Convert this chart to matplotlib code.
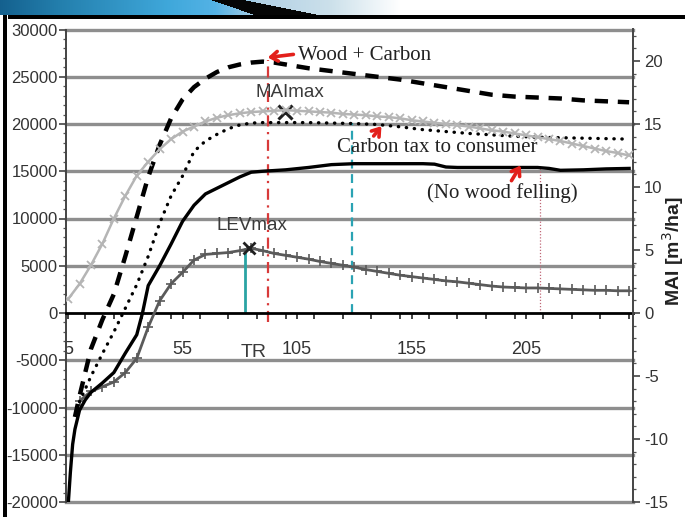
import numpy as np
import matplotlib
matplotlib.use("Agg")
import matplotlib.pyplot as plt
from matplotlib.ticker import MultipleLocator, FixedLocator
from matplotlib.patches import Rectangle

plt.rcParams['font.family'] = ['Liberation Sans', 'DejaVu Sans']

# ---------------- data ----------------
# MAI (right axis, m3/ha), light grey with x markers
mai_age = list(range(5, 251, 5))
mai_val = [1.1, 2.3, 3.8, 5.5, 7.5, 9.3, 10.9, 12.0, 13.0, 13.8,
           14.4, 14.8, 15.2, 15.5, 15.7, 15.85, 15.95, 16.0, 16.05, 16.1,
           16.05, 16.0, 15.95, 15.9, 15.8, 15.75, 15.7, 15.6, 15.55, 15.45,
           15.3, 15.2, 15.1, 15.0, 14.9, 14.8, 14.65, 14.5, 14.4, 14.25,
           14.1, 13.95, 13.8, 13.65, 13.45, 13.25, 13.05, 12.85, 12.7, 12.5]

# LEV (left axis), dark grey with + markers
lev_age = list(range(10, 251, 5))
lev_val = [-9300, -8300, -7800, -7300, -6300, -4800, -1500, 1300, 3100, 4300,
           5600, 6200, 6300, 6400, 6600, 6850, 6600, 6300, 6100, 5900,
           5700, 5450, 5250, 5050, 4850, 4600, 4400, 4200, 4000, 3850,
           3700, 3550, 3400, 3300, 3150, 3000, 2850, 2750, 2700, 2650,
           2650, 2600, 2550, 2500, 2450, 2400, 2400, 2350, 2350]

# Wood + Carbon (dashed)
wc_age = [8, 10, 15, 20, 25, 30, 35, 40, 45, 50, 55, 60, 65, 70, 75, 80, 85, 90,
          95, 100, 110, 120, 130, 140, 150, 160, 170, 180, 190, 200, 210, 220,
          230, 240, 250]
wc_val = [-11000, -8800, -3800, -700, 2000, 6000, 10200, 14400, 17800, 20600,
          22600, 23900, 24800, 25500, 26000, 26300, 26500, 26600, 26500, 26300,
          25900, 25600, 25300, 25000, 24700, 24300, 23900, 23500, 23100, 22900,
          22800, 22700, 22500, 22400, 22300]

# Carbon tax to consumer (dotted)
ct_age = [9, 10, 15, 20, 25, 30, 35, 40, 45, 50, 55, 60, 65, 70, 75, 80, 85, 90,
          100, 110, 120, 130, 140, 150, 160, 170, 180, 190, 200, 210, 220, 230,
          240, 250]
ct_val = [-10200, -9400, -6700, -4300, -2000, 500, 3000, 6000, 9500, 12400,
          14500, 17100, 18200, 18900, 19500, 19900, 20100, 20150, 20150, 20150,
          20100, 20050, 19950, 19700, 19400, 19200, 19000, 18850, 18700, 18600,
          18550, 18500, 18450, 18400]

# No wood felling (solid)
nf_age = [5, 6, 7, 8, 10, 12.5, 15, 20, 25, 30, 35, 37.5, 40, 45, 50, 55, 60, 65,
          70, 75, 80, 85, 90, 100, 110, 120, 130, 140, 150, 160, 165, 170, 175,
          180, 190, 200, 210, 215, 220, 230, 240, 250]
nf_val = [-20500, -16900, -13900, -12300, -10300, -9200, -8400, -7400, -6300,
          -4250, -2300, 0, 2900, 5000, 7300, 9700, 11400, 12600, 13200, 13800,
          14400, 14900, 15000, 15150, 15400, 15700, 15800, 15800, 15800, 15800,
          15750, 15450, 15400, 15400, 15400, 15400, 15400, 15300, 15100, 15150,
          15250, 15300]

x_ticks = [5, 55, 105, 155, 205]
left_ticks = list(range(-20000, 30001, 5000))
right_ticks = list(range(-15, 21, 5))

lev_max = (84, 6880)
mai_max = (99.8, 21270)
age_levmax, age_tr, age_ct, age_nf = 82.3, 92.2, 129.2, 211.1

# ---------------- figure ----------------
fig = plt.figure(figsize=(6.85, 5.17), dpi=100)
W, H = 685, 517

# slide banner
bax = fig.add_axes([0, 1 - 15 / H, 1, 15 / H])
cols = np.arange(W)
kx = [0, 60, 170, 215, 260, 330, 400, 685]
kr = [0.08, 0.14, 0.25, 0.33, 0.70, 0.80, 1.0, 1.0]
kg = [0.38, 0.50, 0.66, 0.70, 0.82, 0.88, 1.0, 1.0]
kb = [0.56, 0.68, 0.86, 0.90, 0.90, 0.92, 1.0, 1.0]
img = np.ones((15, W, 3))
img[:, :, 0] = np.interp(cols, kx, kr)
img[:, :, 1] = np.interp(cols, kx, kg)
img[:, :, 2] = np.interp(cols, kx, kb)
for r in range(15):
    lo = 212 + r * 2.9
    hi = 245 + r * 5.0
    m = (cols >= lo) & (cols <= hi)
    img[r, m, :] = 0.02
bax.imshow(img, aspect='auto', interpolation='bilinear')
bax.set_axis_off()
fig.add_artist(Rectangle((8 / W, 1 - 19 / H), 1, 4 / H, transform=fig.transFigure,
                         color='black', lw=0))
fig.add_artist(Rectangle((3 / W, 0), 4 / W, 1 - 15 / H, transform=fig.transFigure,
                         color='black', lw=0))

ax = fig.add_axes([66 / W, 1 - 502 / H, (633 - 66) / W, (502 - 29.5) / H])
ax2 = ax.twinx()
ax.set_xlim(4.1, 251.7)
ax.set_ylim(-20000, 30000)
ax2.set_ylim(-15, 22.5)

# grid lines
for v in left_ticks:
    if v != 0:
        ax.axhline(v, color='#8e8e8e', lw=2.4, zorder=0.5, clip_on=False)

# vertical markers
ax.vlines(age_levmax, 0, lev_max[1], color='#2aa3a3', lw=2.0, zorder=2)
ax.plot([age_tr, age_tr], [-900, 26800], color='#d83a3a', lw=1.6,
        linestyle=(0, (5, 2.5, 1, 2.5)), zorder=2)
ax.plot([age_ct, age_ct], [0, 20100], color='#2aa3b3', lw=1.6,
        linestyle=(0, (4, 2.5)), zorder=2)
ax.plot([age_nf, age_nf], [0, 15400], color='#c06878', lw=0.9,
        linestyle=(0, (1, 1.5)), zorder=2)

# series
ax.plot(lev_age, lev_val, color='#5a5a5a', lw=2.0, marker='+', ms=7, mew=1.2, zorder=3)
ax.plot(nf_age, nf_val, color='black', lw=2.4, zorder=4, clip_on=True)
ax.plot(ct_age, ct_val, color='black', lw=2.4, linestyle=(0, (0.1, 2.3)),
        dash_capstyle='round', zorder=4)
ax.plot(wc_age, wc_val, color='black', lw=3.2, linestyle=(0, (3.0, 2.2)), zorder=4)
ax2.plot(mai_age, mai_val, color='#b5b5b5', lw=1.8, marker='x', ms=6, mew=1.3, zorder=3)

# max markers
ax.plot([mai_max[0]], [mai_max[1]], marker='x', color='#202020', ms=10, mew=2.2, zorder=6)
ax.plot([lev_max[0]], [lev_max[1]], marker='x', color='#202020', ms=8, mew=2.0, zorder=6)

sans = ['Liberation Sans', 'DejaVu Sans']
serif = ['Liberation Serif', 'DejaVu Serif']
ax.text(102, 23300, 'MAImax', family=sans, fontsize=13.5, color='#3a3a3a',
        ha='center', va='center', zorder=7)
ax.text(85.3, 9300, 'LEVmax', family=sans, fontsize=13.5, color='#3a3a3a',
        ha='center', va='center', zorder=7)
ax.text(86.2, -4130, 'TR', family=sans, fontsize=14, color='#3a3a3a',
        ha='center', va='center', zorder=7)

red = '#e3201b'
ax.text(105.4, 27300, 'Wood + Carbon', family=serif, fontsize=15, color='#222',
        ha='left', va='center', zorder=7)
ax.annotate('', xy=(91, 27000), xytext=(104.6, 27400),
            arrowprops=dict(arrowstyle='->, head_length=0.5, head_width=0.35',
                            color=red, lw=2.6), zorder=8)
ax.text(122.5, 17560, 'Carbon tax to consumer', family=serif, fontsize=15, color='#222',
        ha='left', va='center', zorder=7)
ax.annotate('', xy=(142.6, 20000), xytext=(137.7, 18500),
            arrowprops=dict(arrowstyle='->, head_length=0.5, head_width=0.35',
                            color=red, lw=2.6), zorder=8)
ax.text(161.8, 12700, '(No wood felling)', family=serif, fontsize=15, color='#222',
        ha='left', va='center', zorder=7)
ax.annotate('', xy=(203.3, 15870), xytext=(198, 13750),
            arrowprops=dict(arrowstyle='->, head_length=0.5, head_width=0.35',
                            color=red, lw=2.6), zorder=8)

# axes styling
for s in ['top']:
    ax.spines[s].set_visible(False)
    ax2.spines[s].set_visible(False)
ax2.spines['bottom'].set_visible(False)
ax2.spines['left'].set_visible(False)
ax.spines['right'].set_visible(False)
ax.spines['bottom'].set_position(('data', 0))
ax.spines['bottom'].set_linewidth(2.0)
ax.spines['bottom'].set_zorder(2.5)
ax.spines['left'].set_linewidth(1.4)
ax.spines['left'].set_color('#444')
ax2.spines['right'].set_linewidth(1.4)
ax2.spines['right'].set_color('#444')

ax.xaxis.set_major_locator(FixedLocator(x_ticks))
ax.xaxis.set_minor_locator(MultipleLocator(12.5))
ax.set_xticklabels([str(t) for t in x_ticks])
ax.tick_params(axis='x', which='both', direction='out', length=4, width=1.2,
               color='#222', labelsize=13, pad=16, labelcolor='#333')

ax.yaxis.set_major_locator(FixedLocator(left_ticks))
ax.yaxis.set_minor_locator(MultipleLocator(1000))
ax.set_yticklabels([str(t) for t in left_ticks])
ax.tick_params(axis='y', which='major', direction='out', length=5, width=1.2,
               color='#444', labelsize=12, pad=1, labelcolor='#333')
ax.tick_params(axis='y', which='minor', direction='out', length=2.5, width=0.9,
               color='#555')

ax2.yaxis.set_major_locator(FixedLocator(right_ticks))
ax2.yaxis.set_minor_locator(MultipleLocator(1))
ax2.set_yticklabels([str(t) for t in right_ticks])
ax2.tick_params(axis='y', which='major', direction='out', length=5, width=1.2,
                color='#444', labelsize=12, pad=3, labelcolor='#333')
ax2.tick_params(axis='y', which='minor', direction='out', length=2.5, width=0.9,
                color='#555')

fig.text(673 / W, 1 - 251 / H, 'MAI [m$^3$/ha]', rotation=90, ha='center', va='center',
         fontsize=14, fontweight='bold', color='#222')

fig.savefig('out.png', dpi=100)
